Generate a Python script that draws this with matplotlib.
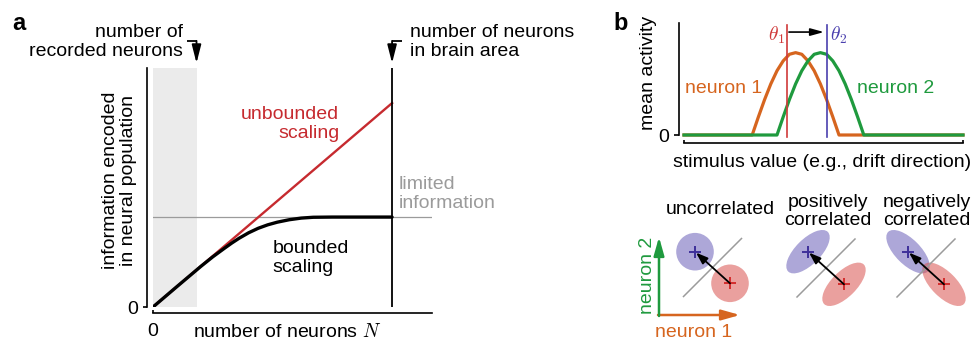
import matplotlib
matplotlib.use("Agg")
import numpy as np
import matplotlib.pyplot as plt
from matplotlib.patches import Ellipse

plt.rcParams["font.family"] = ["Liberation Sans", "DejaVu Sans"]
plt.rcParams["mathtext.fontset"] = "cm"
plt.rcParams["font.size"] = 14

# ---------------- data ----------------
# panel a: information vs. population size
n_recorded = 18.2
n_brain = 100
info_limit = 44.1
n_unbounded = [0, 100]
info_unbounded = [0, 100]
n_bounded = [0, 10, 20, 25, 30, 33, 36, 40, 44, 48, 52, 57, 62, 67, 75, 100]
info_bounded = [0, 10, 19.9, 24.6, 28.9, 31.4, 33.7, 36.4, 38.6, 40.3, 41.6,
                42.8, 43.6, 44.0, 44.1, 44.1]

# panel b (top): tuning curves
stim = [0, 44, 48, 52, 56, 60, 64, 68, 72, 76, 80, 84, 88, 92, 96, 100,
        104, 108, 112, 116, 180]
neuron1 = [0, 0, .22, .43, .62, .78, .90, .98, 1, .98, .90, .78, .62, .43,
           .22, 0, 0, 0, 0, 0, 0]
neuron2 = [0, 0, 0, 0, 0, 0, .22, .43, .62, .78, .90, .98, 1, .98, .90,
           .78, .62, .43, .22, 0, 0]
theta1 = 66.5
theta2 = 92.3

# panel b (bottom): response distributions for theta1 (red) and theta2 (blue)
cases = ["uncorrelated", "positively\ncorrelated", "negatively\ncorrelated"]
mean_theta1 = [(90, 58.7), (204, 57.7), (304, 57.7)]
mean_theta2 = [(55, 90.3), (168, 90.3), (268, 90.3)]
noise_width = [37.6, 56, 56]
noise_height = [37.6, 25.2, 25.2]
noise_angle = [0, 45, -45]
boundary_half = 41
axis_origin = (19, 27)
axis_end = (100, 105)

# ---------------- colours ----------------
RED = "#c62a2f"
ORANGE = "#d6651f"
GREEN = "#1f9a3e"
GRAY = "#9b9b9b"
TH_RED = "#d03a3a"
TH_BLUE = "#4a3fae"

W, H = 971, 342
fig = plt.figure(figsize=(W / 100, H / 100), dpi=100)


def rect(x0, y0, x1, y1):
    return [x0 / W, 1 - y1 / H, (x1 - x0) / W, (y1 - y0) / H]


def txt(px, py, s, ha="left", va="baseline", **kw):
    fig.text(px / W, 1 - py / H, s, ha=ha, va=va, **kw)


def vtxt(px, py, s, **kw):
    fig.text(px / W, 1 - py / H, s, rotation=90, rotation_mode="anchor",
             ha="center", va="baseline", **kw)


# ---------------- panel a ----------------
ax = fig.add_axes(rect(153, 68, 432, 307))
ax.set_xlim(0, 116.7)
ax.set_ylim(0, 117.2)
ax.axvspan(0, n_recorded, color="#ebebeb", lw=0, zorder=0)
ax.axhline(info_limit, color=GRAY, lw=0.9, zorder=1)
ax.plot(n_unbounded, info_unbounded, color=RED, lw=1.7, zorder=2)
ax.plot(n_bounded, info_bounded, color="black", lw=2.4, zorder=3,
        solid_capstyle="round", solid_joinstyle="round")
ax.plot([n_brain, n_brain], [0, 117.2], color="black", lw=1.3, zorder=3)
for s in ["top", "right"]:
    ax.spines[s].set_visible(False)
ax.spines["left"].set_position(("outward", 4.1))
ax.spines["bottom"].set_position(("outward", 4.6))
for s in ["left", "bottom"]:
    ax.spines[s].set_linewidth(1.2)
ax.set_xticks([0])
ax.set_yticks([0])
ax.tick_params(axis="y", direction="out", length=3, width=1.2, pad=3.9)
ax.tick_params(axis="x", direction="in", length=2, width=1.2, pad=7)

arrow_kw = dict(arrowstyle="-|>,head_length=1.1,head_width=0.28",
                mutation_scale=10, lw=1.3, color="black", shrinkA=0, shrinkB=0)
y_stub, y_tip = 130.5, 119.6
for x_arrow, x_stub in [(n_recorded, 14.1), (n_brain, 104)]:
    ax.plot([x_stub, x_arrow], [y_stub, y_stub], color="black", lw=1.3,
            clip_on=False, solid_capstyle="butt")
    ax.annotate("", xy=(x_arrow, y_tip), xytext=(x_arrow, y_stub),
                arrowprops=arrow_kw, annotation_clip=False)

txt(12, 30, "a", fontsize=17, fontweight="bold")
txt(183, 37, "number of", ha="right")
txt(183, 55.6, "recorded neurons", ha="right")
txt(410, 37, "number of neurons")
txt(410, 55.6, "in brain area")
txt(339.3, 119.5, "unbounded", ha="right", color=RED)
txt(339.3, 138, "scaling", ha="right", color=RED)
txt(272.7, 253, "bounded")
txt(272.7, 272, "scaling")
txt(398.3, 189, "limited", color=GRAY)
txt(398.3, 208, "information", color=GRAY)
txt(287.5, 337, "number of neurons $N$", ha="center")
vtxt(115, 180, "information encoded")
vtxt(133.4, 181, "in neural population")

# ---------------- panel b, tuning curves ----------------
bx = fig.add_axes(rect(684, 23, 963, 135))
bx.set_xlim(0, 180)
bx.set_ylim(0, 1.36)
bx.plot(stim, neuron1, color=ORANGE, lw=2.3, solid_joinstyle="round", zorder=2,
        clip_on=False)
bx.plot(stim, neuron2, color=GREEN, lw=2.3, solid_joinstyle="round", zorder=3,
        clip_on=False)
bx.plot([theta1, theta1], [-0.03, 1.34], color=TH_RED, lw=1.2, zorder=4,
        clip_on=False)
bx.plot([theta2, theta2], [-0.03, 1.34], color=TH_BLUE, lw=1.2, zorder=4,
        clip_on=False)
bx.annotate("", xy=(theta2 - 2.0, 1.25), xytext=(theta1 + 1.2, 1.25),
            arrowprops=dict(arrowstyle="-|>,head_length=0.8,head_width=0.22",
                            mutation_scale=10, lw=1.2, color="black",
                            shrinkA=0, shrinkB=0), annotation_clip=False)
for s in ["top", "right"]:
    bx.spines[s].set_visible(False)
bx.spines["left"].set_position(("outward", 3.4))
bx.spines["bottom"].set_position(("outward", 5.5))
for s in ["left", "bottom"]:
    bx.spines[s].set_linewidth(1.2)
bx.set_xticks([0, 180])
bx.set_xticklabels(["", ""])
bx.set_yticks([0])
bx.tick_params(axis="y", direction="out", length=3.5, width=1.2, pad=3.6)
bx.tick_params(axis="x", direction="in", length=2.2, width=1.2)

txt(613, 30, "b", fontsize=17, fontweight="bold")
txt(785, 35, r"$\theta_1$", ha="right", va="center", color=TH_RED)
txt(830, 35, r"$\theta_2$", ha="left", va="center", color=TH_BLUE)
txt(685, 93.3, "neuron 1", color=ORANGE)
txt(857, 93.3, "neuron 2", color=GREEN)
vtxt(652.5, 73, "mean activity")
txt(821.7, 167, "stimulus value (e.g., drift direction)", ha="center")

# ---------------- panel b, response distributions ----------------
cx = fig.add_axes(rect(640, 175, 971, 342))
cx.set_xlim(0, 331)
cx.set_ylim(0, 167)
cx.axis("off")

for m1, m2, w, h, ang in zip(mean_theta1, mean_theta2, noise_width,
                             noise_height, noise_angle):
    cx.add_patch(Ellipse(m2, w, h, angle=ang, facecolor="#6a5fb8",
                         alpha=0.55, lw=0, zorder=1))
    cx.add_patch(Ellipse(m1, w, h, angle=ang, facecolor="#d9534f",
                         alpha=0.55, lw=0, zorder=1))
    mid = ((m1[0] + m2[0]) / 2, (m1[1] + m2[1]) / 2)
    d = boundary_half / np.sqrt(2)
    cx.plot([mid[0] - d, mid[0] + d], [mid[1] - d, mid[1] + d], color=GRAY,
            lw=1.1, zorder=2)
    cx.plot(*m1, marker="+", ms=8, mew=1.4, color="#d42c2c", zorder=3)
    cx.plot(*m2, marker="+", ms=8, mew=1.4, color="#3d2f9a", zorder=3)
    cx.annotate("", xy=m2, xytext=m1,
                arrowprops=dict(arrowstyle="-|>,head_length=0.7,head_width=0.25",
                                mutation_scale=10, lw=1.3, color="black",
                                shrinkA=0, shrinkB=1), zorder=4)

axis_arrow = "-|>,head_length=1.1,head_width=0.31"
cx.annotate("", xy=(axis_end[0], axis_origin[1]), xytext=(axis_origin[0] - 1, axis_origin[1]),
            arrowprops=dict(arrowstyle=axis_arrow, mutation_scale=10, lw=1.8,
                            color=ORANGE, shrinkA=0, shrinkB=0))
cx.annotate("", xy=(axis_origin[0], axis_end[1]), xytext=(axis_origin[0], axis_origin[1] - 1),
            arrowprops=dict(arrowstyle=axis_arrow, mutation_scale=10, lw=1.8,
                            color=GREEN, shrinkA=0, shrinkB=0))

txt(720, 214, "uncorrelated", ha="center")
txt(828, 206.7, "positively", ha="center")
txt(828, 225, "correlated", ha="center")
txt(927, 206.7, "negatively", ha="center")
txt(927, 225, "correlated", ha="center")
vtxt(651.7, 275, "neuron 2", color=GREEN)
txt(694, 336.7, "neuron 1", ha="center", color=ORANGE)

fig.savefig("out.png", dpi=100)
